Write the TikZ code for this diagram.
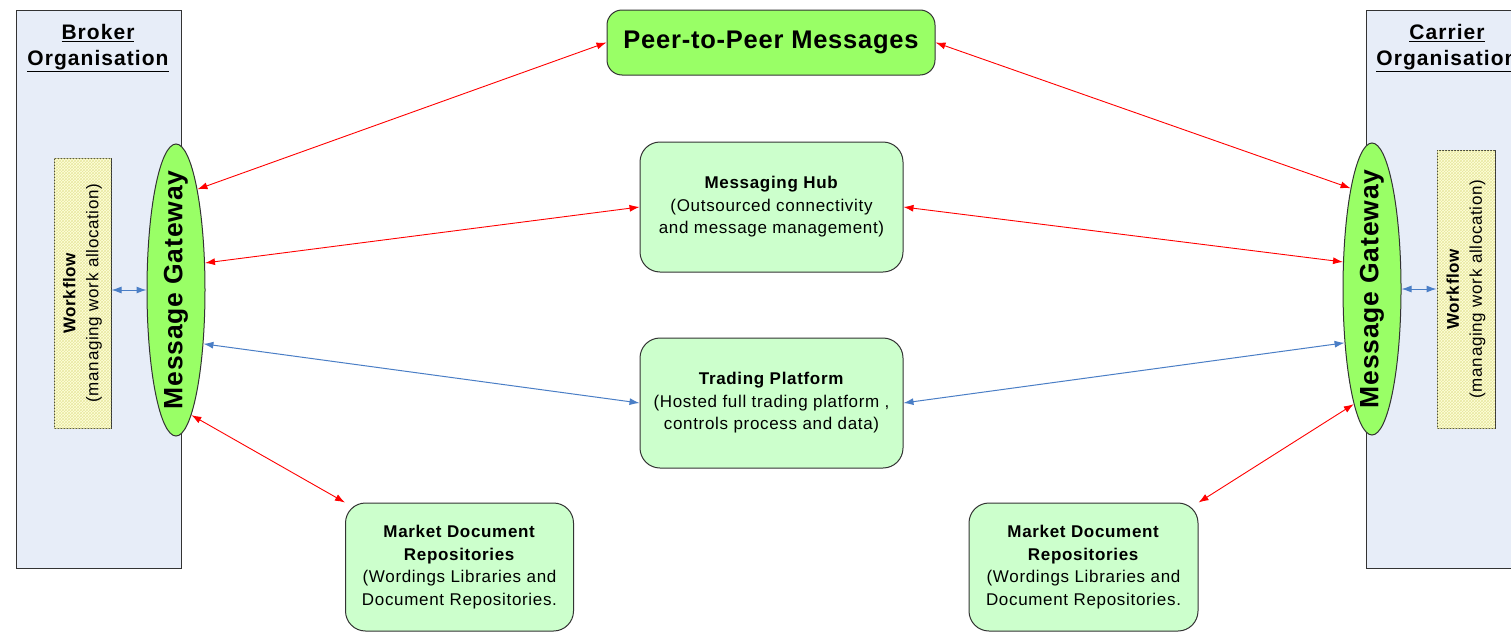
\documentclass[tikz,border=0pt]{standalone}
\usepackage{fontspec}
\setmainfont{Liberation Sans}
\usetikzlibrary{shapes.geometric,arrows.meta,patterns}
\definecolor{orgfill}{HTML}{E7EDF8}
\definecolor{brightgreen}{HTML}{99FF66}
\definecolor{palegreen}{HTML}{CCFFCC}
\definecolor{wfyellow}{HTML}{FFFFDC}
\definecolor{wfhatch}{HTML}{E8E8A0}
\definecolor{linkred}{HTML}{FF0000}
\definecolor{linkblue}{HTML}{4A7EC6}
\definecolor{edge}{HTML}{333333}
\begin{document}
\begin{tikzpicture}[x=1pt,y=-1pt,
  orgbox/.style={draw=edge, line width=1pt, fill=orgfill, anchor=north west, inner sep=0pt},
  orgtitle/.style={align=center, font=\bfseries\fontsize{21}{26}\selectfont\addfontfeatures{LetterSpace=5}},
  wfbox/.style={draw=edge, line width=1pt, fill=wfyellow,
    postaction={pattern=crosshatch, pattern color=wfhatch}, inner sep=0pt},
  wftext/.style={rotate=90, align=center, font=\fontsize{17}{23}\selectfont\addfontfeatures{LetterSpace=4}},
  gateway/.style={ellipse, draw=edge, line width=1pt, fill=brightgreen,
    minimum width=58pt, minimum height=292pt, inner sep=0pt},
  gwtext/.style={rotate=90, font=\bfseries\fontsize{26.5}{30}\selectfont\addfontfeatures{LetterSpace=3}},
  rbox/.style={draw=edge, line width=1pt, rounded corners=20pt, fill=palegreen,
    align=center, font=\fontsize{17}{22.5}\selectfont\addfontfeatures{LetterSpace=4}, inner sep=0pt},
  redlink/.style={draw=linkred, line width=0.9pt,
    {Latex[length=10pt,width=7pt]}-{Latex[length=10pt,width=7pt]}},
  bluelink/.style={draw=linkblue, line width=1pt,
    {Latex[length=10pt,width=7pt]}-{Latex[length=10pt,width=7pt]}}
]
\useasboundingbox (0,0) rectangle (1511,632);
\clip (0,0) rectangle (1511,632);
\fill[white] (0,0) rectangle (1511,632);

% organisation panels
\node[orgbox, minimum width=165pt, minimum height=558pt] (borg) at (16,10) {};
\node[orgtitle] (borgt) at (98,48) {\underline{Broker}\\\underline{Organisation}};
\node[orgbox, minimum width=200pt, minimum height=558pt] (corg) at (1366,10) {};
\node[orgtitle] (corgt) at (1447,48) {\underline{Carrier}\\\underline{Organisation}};

% workflow boxes
\node[wfbox, minimum width=57pt, minimum height=270pt] (lwf) at (82.5,293) {};
\node[wftext] (lwft) at (lwf) {\textbf{Workflow}\\(managing work allocation)};
\node[wfbox, minimum width=58pt, minimum height=278pt] (rwf) at (1466,289) {};
\node[wftext] (rwft) at (rwf) {\textbf{Workflow}\\(managing work allocation)};

% message gateways
\node[gateway] (lgw) at (176,290) {};
\node[gwtext] (lgwt) at (lgw) {Message Gateway};
\node[gateway] (rgw) at (1372,289) {};
\node[gwtext] (rgwt) at (rgw) {Message Gateway};

% central services
\node[rbox, fill=brightgreen, rounded corners=15pt, minimum width=328pt, minimum height=65pt,
  font=\bfseries\fontsize{25.5}{30}\selectfont\addfontfeatures{LetterSpace=3}] (p2p) at (771,42.5) {Peer-to-Peer Messages};
\node[rbox, minimum width=263pt, minimum height=130pt] (hub) at (771.5,207)
  {\textbf{Messaging Hub}\\(Outsourced connectivity\\and message management)};
\node[rbox, minimum width=263pt, minimum height=130pt] (trade) at (771.5,403)
  {\textbf{Trading Platform}\\(Hosted full trading platform ,\\controls process and data)};
\node[rbox, minimum width=228pt, minimum height=128pt] (mdl) at (459.5,567)
  {\textbf{Market Document}\\\textbf{Repositories}\\(Wordings Libraries and\\Document Repositories.};
\node[rbox, minimum width=229pt, minimum height=128pt] (mdr) at (1083.5,567)
  {\textbf{Market Document}\\\textbf{Repositories}\\(Wordings Libraries and\\Document Repositories.};

% connectors
\draw[bluelink] (lgw.west -| lwf.east) -- (lgw.west);
\draw[bluelink] (rgw.east) -- (rgw.east -| rwf.west);
\draw[redlink] (lgw.78) -- (p2p.west);
\draw[redlink] (p2p.east) -- (rgw.102);
\draw[redlink] (lgw.43) -- (hub.west);
\draw[redlink] (hub.east) -- (rgw.137);
\draw[bluelink] (lgw.-63) -- (trade.west);
\draw[bluelink] (trade.east) -- (rgw.243);
\draw[redlink] (lgw.-83) -- (mdl.north west);
\draw[redlink] (mdr.north east) -- (rgw.-99);
\end{tikzpicture}
\end{document}
